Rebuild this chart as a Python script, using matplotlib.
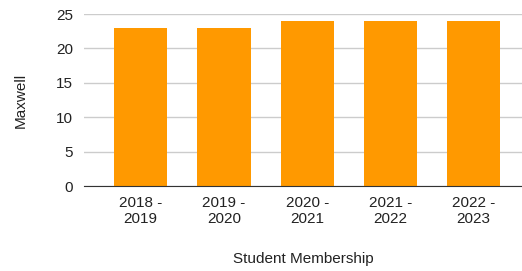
import matplotlib
matplotlib.use("Agg")
import matplotlib.pyplot as plt

# Student membership per year (Maxwell)
years = ["2018 -\n2019", "2019 -\n2020", "2020 -\n2021", "2021 -\n2022", "2022 -\n2023"]
members = [23, 23, 24, 24, 24]
yticks = [0, 5, 10, 15, 20, 25]

plt.rcParams['font.family'] = ['Liberation Sans', 'DejaVu Sans']

fig = plt.figure(figsize=(5.22, 2.71), dpi=100)
ax = fig.add_axes([84 / 522, 1 - 186 / 271, 438 / 522, 172 / 271])

x = list(range(len(years)))
ax.bar(x, members, width=0.64, color="#ff9900", zorder=3)

ax.set_xlim(-0.68, 4.58)
ax.set_ylim(0, 25)
ax.set_yticks(yticks)
ax.set_xticks(x)
ax.set_xticklabels(years)
ax.tick_params(axis='both', length=0, labelsize=11, colors="#222222")
ax.tick_params(axis='x', pad=7)
ax.tick_params(axis='y', pad=8)
ax.grid(axis='y', color="#cccccc", linewidth=1, zorder=0)

for side in ["top", "right", "left"]:
    ax.spines[side].set_visible(False)
ax.spines["bottom"].set_color("#333333")
ax.spines["bottom"].set_zorder(4)

ax.set_ylabel("Maxwell", fontsize=11, color="#222222", labelpad=20)
ax.set_xlabel("Student Membership", fontsize=11, color="#222222", labelpad=19)

fig.savefig("out.png", dpi=100)
